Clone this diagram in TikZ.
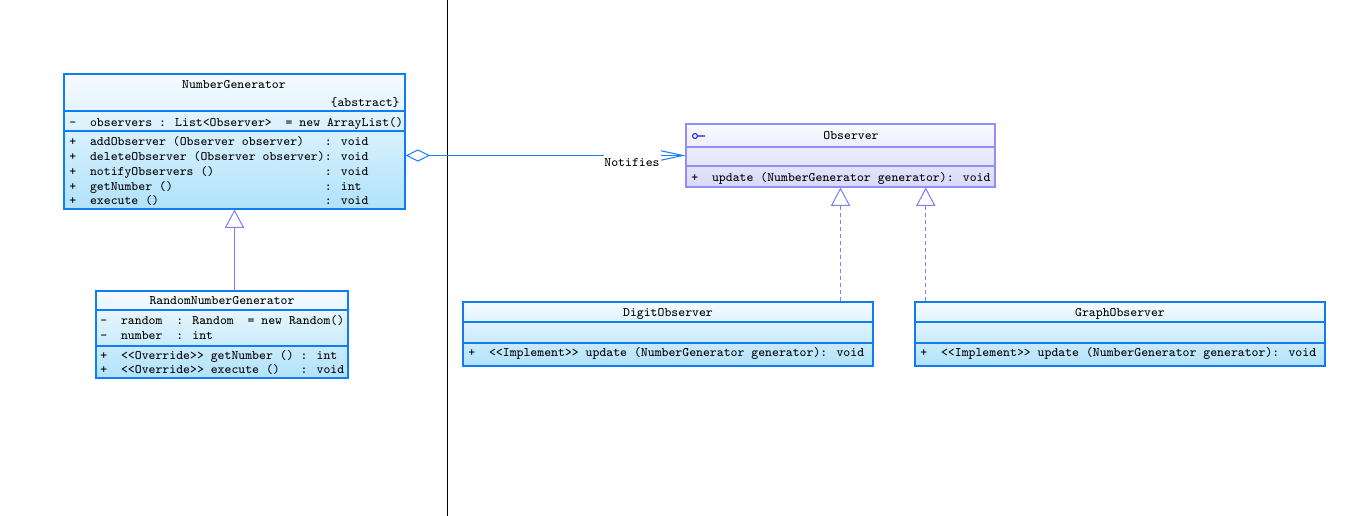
\documentclass[tikz,border=0pt]{standalone}
\usepackage{xcolor}
\usepackage{tikz}
\usetikzlibrary{positioning, fit, calc, arrows.meta}

\definecolor{clsborder}{RGB}{16,124,240}
\definecolor{clstop}{RGB}{246,251,255}
\definecolor{clsbottom}{RGB}{176,226,250}
\definecolor{ifborder}{RGB}{144,144,240}
\definecolor{iftop}{RGB}{250,250,255}
\definecolor{ifbottom}{RGB}{216,216,250}
\definecolor{relline}{RGB}{128,128,240}
\definecolor{assocline}{RGB}{30,128,240}
\definecolor{iconblue}{RGB}{30,30,230}

\begin{document}
\begin{tikzpicture}[x=0.02cm, y=-0.02cm,
    font=\ttfamily\fontsize{7.4}{8.3}\selectfont,
    classbox/.style={draw=clsborder, line width=0.6pt, top color=clstop, bottom color=clsbottom, inner sep=0pt},
    ifacebox/.style={classbox, draw=ifborder, top color=iftop, bottom color=ifbottom},
    member/.style={anchor=west, inner sep=0pt, text height=1.5ex, text depth=0.3ex},
    ctitle/.style={inner sep=0pt, text height=1.5ex, text depth=0.3ex},
    assoc/.style={draw=assocline, line width=0.6pt},
    inherit/.style={draw=relline, line width=0.6pt, -{Triangle[open, length=10.5pt, width=11pt]}},
    realize/.style={inherit, dash pattern=on 2.5pt off 1.5pt}]
    \useasboundingbox (0,0) rectangle (1359,516);
    % 观察者模式类图: 左侧为被观察者, 右侧为观察者
    \draw[black, line width=0.5pt] (447,0) -- (447,516);

    % NumberGenerator
    \node[classbox, fit={(64,74) (405,209)}] (ng) {};
    \draw[clsborder, line width=0.6pt] (64,111) -- (405,111) (64,131) -- (405,131);
    \node[ctitle] (ng-title) at (234,84) {NumberGenerator};
    \node[member, anchor=east] (ng-abs) at (400,102) {\{abstract\}};
    \node[member] (ng-attr) at (69,122) {-~~observers : List<Observer>~~= new ArrayList()};
    \foreach \y/\t [count=\i] in {141/{+~~addObserver (Observer observer)~~~: void},
        156/{+~~deleteObserver (Observer observer): void},
        171/{+~~notifyObservers ()~~~~~~~~~~~~~~~~: void},
        186/{+~~getNumber ()~~~~~~~~~~~~~~~~~~~~~~: int},
        200/{+~~execute ()~~~~~~~~~~~~~~~~~~~~~~~~: void}} {
        \node[member] (ng-op\i) at (69,\y) {\t};
    }

    % RandomNumberGenerator
    \node[classbox, fit={(96,291) (348,378)}] (rng) {};
    \draw[clsborder, line width=0.6pt] (96,310) -- (348,310) (96,346) -- (348,346);
    \node[ctitle] (rng-title) at (222,300) {RandomNumberGenerator};
    \foreach \y/\t [count=\i] in {320/{-~~random~~: Random~~= new Random()},
        335/{-~~number~~: int},
        355/{+~~<{}<Override>{}> getNumber () : int},
        369/{+~~<{}<Override>{}> execute ()~~~: void}} {
        \node[member] (rng-m\i) at (100,\y) {\t};
    }

    % Observer 接口
    \node[ifacebox, fit={(686,124) (995,187)}] (obs) {};
    \draw[ifborder, line width=0.6pt] (686,147) -- (995,147) (686,166) -- (995,166);
    \draw[iconblue, line width=0.6pt] (695,136) circle[radius=1.4pt] (697.5,136) -- (705,136);
    \node[ctitle] (obs-title) at (851,135) {Observer};
    \node[member] (obs-op) at (691,177) {+~~update (NumberGenerator generator): void};

    % 具体观察者
    \foreach \nm/\lx/\txt in {digit/463/DigitObserver, graph/915/GraphObserver} {
        \node[classbox, fit={(\lx,302) ($(\lx,366)+(410,0)$)}] (\nm) {};
        \draw[clsborder, line width=0.6pt] (\lx,322) -- ++(410,0) (\lx,343) -- ++(410,0);
        \node[ctitle] (\nm-title) at ($(\lx,312)+(205,0)$) {\txt};
        \node[member] (\nm-op) at ($(\lx,352)+(5,0)$) {+~~<{}<Implement>{}> update (NumberGenerator generator): void};
    }

    % 关系
    \draw[assoc, {Diamond[open, length=14pt, width=7pt]}-{Straight Barb[length=14pt, width=6pt]}]
        (ng.east |- obs.west) -- (obs.west);
    \node[ctitle, fill=white, inner xsep=0.5pt, inner ysep=3.5pt] (notif) at (632,162) {Notifies};
    \draw[inherit] (rng.north -| ng.south) -- (ng.south);
    \coordinate (obsg) at ($(obs.south)!0.55!(obs.south east)$);
    \draw[realize] (digit.north -| obs.south) -- (obs.south);
    \draw[realize] (graph.north -| obsg) -- (obsg);
\end{tikzpicture}
\end{document}
